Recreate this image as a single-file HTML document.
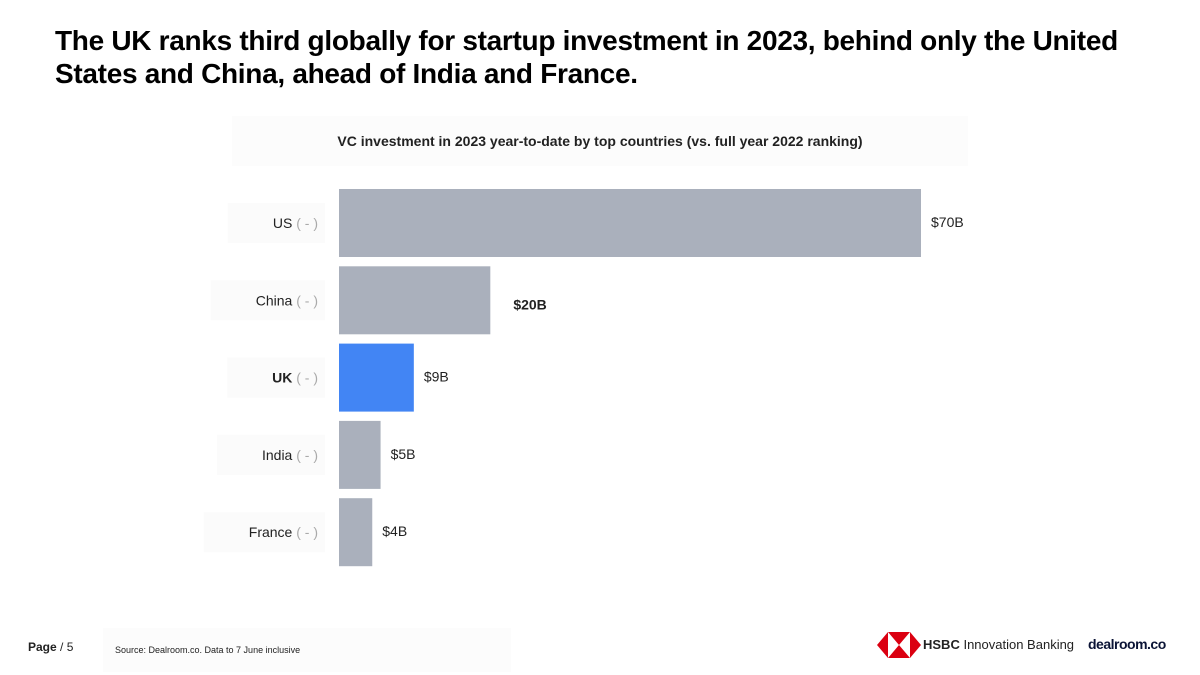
<!DOCTYPE html>
<html><head><meta charset="utf-8"><style>
body{margin:0;width:1200px;height:675px;background:#fff;font-family:"Liberation Sans",sans-serif;position:relative;overflow:hidden}
.t{position:absolute;white-space:nowrap}
</style></head><body>
<div class="t" style="left:55px;top:24px;font-size:28px;font-weight:bold;line-height:33px;color:#000;letter-spacing:-0.3px">The UK ranks third globally for startup investment in 2023, behind only the United<br>States and China, ahead of India and France.</div>
<div class="t" style="left:232px;top:116px;width:736px;height:50px;background:#fcfcfc;text-align:center;line-height:50px;font-size:14px;font-weight:bold;color:#222">VC investment in 2023 year-to-date by top countries (vs. full year 2022 ranking)</div>
<svg id="chart" width="1200" height="675" style="position:absolute;left:0;top:0"></svg>
<div class="t" style="left:28px;top:640px;font-size:12px;color:#222"><b>Page</b> / 5</div>
<div class="t" style="left:103px;top:628px;width:408px;height:44px;background:#fcfcfc;font-size:9px;line-height:44px;padding-left:12px;box-sizing:border-box;color:#222">Source: Dealroom.co. Data to 7 June inclusive</div>
<svg style="position:absolute;left:877px;top:632px" width="44" height="26"><polygon points="0,13 11,0 11,26" fill="#db0011"/><polygon points="44,13 33,0 33,26" fill="#db0011"/><polygon points="11,0 33,0 22,13" fill="#db0011"/><polygon points="11,26 33,26 22,13" fill="#db0011"/></svg>
<div class="t" style="left:923px;top:637px;font-size:13px;color:#222"><b>HSBC</b> Innovation Banking</div>
<div class="t" style="left:1088px;top:636px;font-size:14px;font-weight:bold;color:#0b1436;letter-spacing:-0.5px">dealroom.co</div>
<script>
const countries=["US","China","UK","India","France"];
const values=[70,18.2,9,5,4];
const valueLabels=["$70B","$20B","$9B","$5B","$4B"];
const highlight=[false,false,true,false,false];
const boldLabel=[false,true,false,false,false];
const svg=document.getElementById('chart');
const NS="http://www.w3.org/2000/svg";
const x0=339,pxPerUnit=582/70;
const xs=v=>x0+v*pxPerUnit;
const rowTop=189,rowStep=77.3,barH=68;
const ys=i=>rowTop+i*rowStep;
countries.forEach((c,i)=>{
  const y=ys(i);
  const t=document.createElementNS(NS,'text');
  t.setAttribute('x',318);t.setAttribute('y',y+barH/2+5);t.setAttribute('text-anchor','end');t.setAttribute('font-size','14');
  t.setAttribute('font-family','Liberation Sans, sans-serif');
  t.innerHTML=`<tspan fill="#222" font-weight="${highlight[i]?'bold':'normal'}">${c}</tspan><tspan fill="#aaa"> ( - )</tspan>`;
  
  
  svg.appendChild(t);
  const w=t.getComputedTextLength();
  const lb=document.createElementNS(NS,'rect');
  lb.setAttribute('x',318-w-45);lb.setAttribute('y',y+14);lb.setAttribute('width',w+52);lb.setAttribute('height',40);lb.setAttribute('fill','#fbfbfb');
  
  
  svg.insertBefore(lb,t);
  const r=document.createElementNS(NS,'rect');
  r.setAttribute('x',x0);r.setAttribute('y',y);r.setAttribute('width',xs(values[i])-x0);r.setAttribute('height',barH);
  r.setAttribute('fill',highlight[i]?'#4285f4':'#aab0bc');
  
  
  svg.appendChild(r);
  const v=document.createElementNS(NS,'text');
  const vx=xs(values[i])+(boldLabel[i]?23:10);
  v.setAttribute('x',vx);v.setAttribute('y',y+barH/2+(boldLabel[i]?9:4));
  v.setAttribute('font-size','14');v.setAttribute('font-family','Liberation Sans, sans-serif');
  v.setAttribute('font-weight',boldLabel[i]?'bold':'normal');v.setAttribute('fill','#222');
  v.textContent=valueLabels[i];
  
  
  svg.appendChild(v);
});
</script>
</body></html>
